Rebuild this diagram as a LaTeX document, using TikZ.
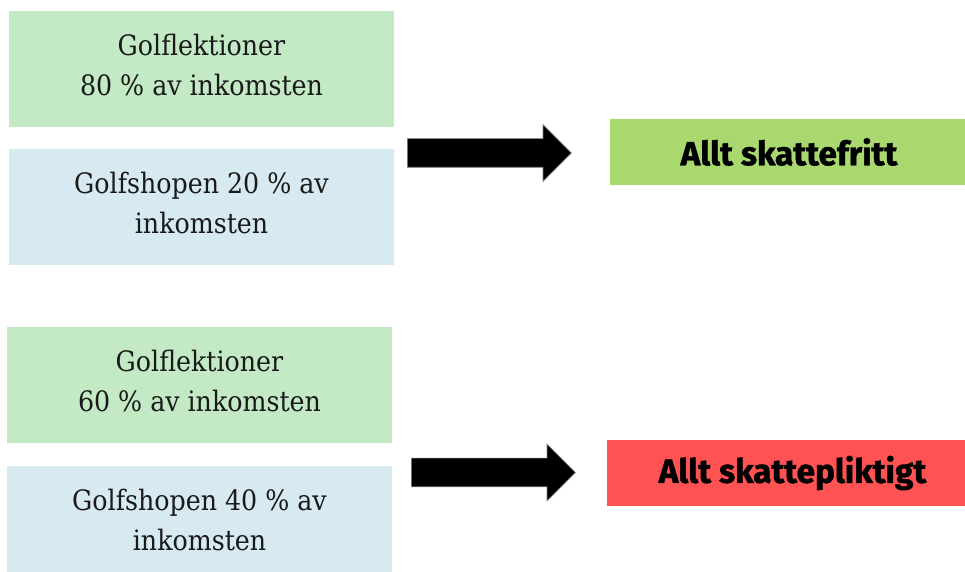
\documentclass[tikz,border=0pt]{standalone}
\usepackage{fontspec}
\setmainfont{DejaVu Serif Condensed}
\newfontfamily\heavysans{Fira Sans}[BoldFeatures={FakeBold=1.3}]
\usepackage{tikz}
\usetikzlibrary{shapes.arrows}
\definecolor{incgreen}{HTML}{C3EAC4}
\definecolor{incblue}{HTML}{D7E9F1}
\definecolor{resgreen}{HTML}{A8D86E}
\definecolor{resred}{HTML}{FF5252}
\definecolor{inktext}{HTML}{1A1A1A}
\tikzset{
        inc_box/.style = {align=center, inner sep=0pt, text centered, rectangle,
            font=\fontsize{16}{22.8}\selectfont, text=inktext, text depth=5pt,
            minimum width=7.7cm, minimum height=2.32cm},
        inc_g/.style = {inc_box, fill=incgreen},
        inc_b/.style = {inc_box, fill=incblue},
        res_box/.style = {align=center, inner sep=0pt, rectangle, text=black,
            font=\heavysans\bfseries\fontsize{19}{22}\selectfont,
            minimum height=1.32cm},
        res_g/.style = {res_box, fill=resgreen, minimum width=7.16cm},
        res_r/.style = {res_box, fill=resred, minimum width=7.42cm},
        big_arr/.style = {single arrow, fill=black, draw=gray, line width=0.4pt,
            inner sep=0pt, inner ysep=0.28cm, single arrow head extend=0.28cm,
            minimum height=3.28cm, anchor=west}
    }
\begin{document}
\begin{tikzpicture}
    \clip (0,0) rectangle (19.3,-11.44);
    % 80/20
    \node [inc_g] (gl1) at (4.03,-1.38) {Golflektioner\\80 \% av inkomsten};
    \node [inc_b] (gs1) at (4.03,-4.14) {Golfshopen 20 \% av\\inkomsten};
    \node [big_arr] (arr1) at (8.14,-3.06) {};
    \node [res_g] (fri) at (15.78,-3.04) {Allt skattefritt};
    % 60/40
    \node [inc_g] (gl2) at (3.99,-7.70) {Golflektioner\\60 \% av inkomsten};
    \node [inc_b] (gs2) at (3.99,-10.48) {Golfshopen 40 \% av\\inkomsten};
    \node [big_arr] (arr2) at (8.22,-9.45) {};
    \node [res_r] (plikt) at (15.85,-9.46) {Allt skattepliktigt};
\end{tikzpicture}
\end{document}
